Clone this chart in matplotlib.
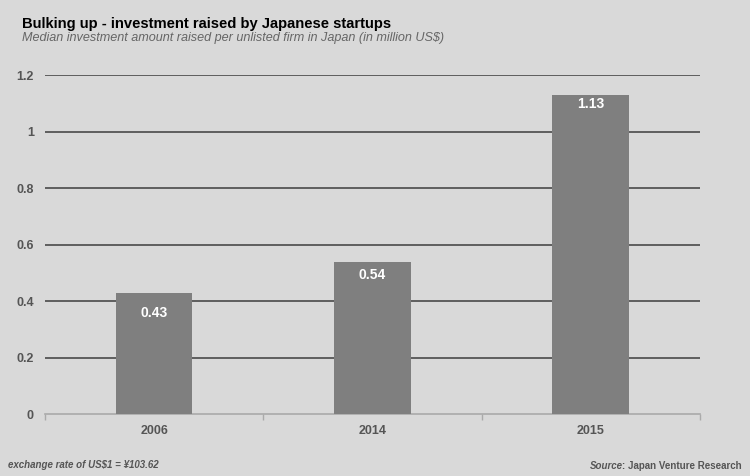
import matplotlib.pyplot as plt
import numpy as np

years = ["2006", "2014", "2015"]
median_investment = [0.43, 0.54, 1.13]
yticks = [0, 0.2, 0.4, 0.6, 0.8, 1.0, 1.2]
ytick_labels = ["0", "0.2", "0.4", "0.6", "0.8", "1", "1.2"]

bg = "#d9d9d9"
plt.rcParams["font.family"] = ["Liberation Sans", "DejaVu Sans"]

fig = plt.figure(figsize=(7.5, 4.76), dpi=100, facecolor=bg)
ax = fig.add_axes([0.06, 0.130, 0.873, 0.712])
ax.set_facecolor(bg)

x = np.arange(len(years))
bars = ax.bar(x, median_investment, width=0.35, color="#7f7f7f", zorder=3)
# label offsets below the bar top (points), as placed in the original
label_drop = [14.5, 9.5, 6.5]
for b, v, d in zip(bars, median_investment, label_drop):
    ax.annotate(f"{v:g}", (b.get_x() + b.get_width() / 2, v), xytext=(0, -d),
                textcoords="offset points", ha="center", va="center",
                color="white", fontsize=10, fontweight="bold", zorder=4)

ax.set_xlim(-0.5, 2.5)
ax.set_ylim(0, 1.2)
ax.set_yticks(yticks)
ax.set_yticklabels(ytick_labels)
for y in yticks[1:]:
    ax.axhline(y, color="#555555", lw=1.3, zorder=1)

ax.set_xticks(x)
ax.set_xticklabels(years)
ax.set_xticks([-0.5, 0.5, 1.5, 2.5], minor=True)
ax.tick_params(axis="x", which="major", length=0, pad=8, labelcolor="#555555", labelsize=9)
ax.tick_params(axis="x", which="minor", length=4, color="#aaaaaa", width=1)
ax.tick_params(axis="y", length=0, pad=8, labelcolor="#555555", labelsize=9)
for lab in ax.get_xticklabels() + ax.get_yticklabels():
    lab.set_fontweight("bold")

for s in ["top", "right", "left"]:
    ax.spines[s].set_visible(False)
ax.spines["bottom"].set_color("#aaaaaa")
ax.spines["bottom"].set_linewidth(1.2)

fig.text(22 / 750, 1 - 24 / 476, "Bulking up - investment raised by Japanese startups",
         fontsize=10.6, fontweight="bold", color="black", va="center")
fig.text(22 / 750, 1 - 38.5 / 476, "Median investment amount raised per unlisted firm in Japan (in million US$)",
         fontsize=9.1, style="italic", color="#666666", va="center")
fig.text(8 / 750, 1 - 465 / 476, "exchange rate of US$1 = ¥103.62",
         fontsize=7, style="italic", fontweight="bold", color="#555555", va="center")
rest = fig.text(742 / 750, 1 - 466 / 476, ": Japan Venture Research",
                fontsize=7, fontweight="bold", color="#555555", va="center", ha="right")
src = fig.text(0, 0, "Source", fontsize=7, style="italic", fontweight="bold", color="#555555")
fig.canvas.draw()
r = fig.canvas.get_renderer()
w_rest = rest.get_window_extent(r).width
w_src = src.get_window_extent(r).width
src.set_position(((742 - w_rest - w_src) / 750, 1 - 466 / 476))
src.set_va("center")

fig.savefig("out.png", dpi=100, facecolor=bg)
